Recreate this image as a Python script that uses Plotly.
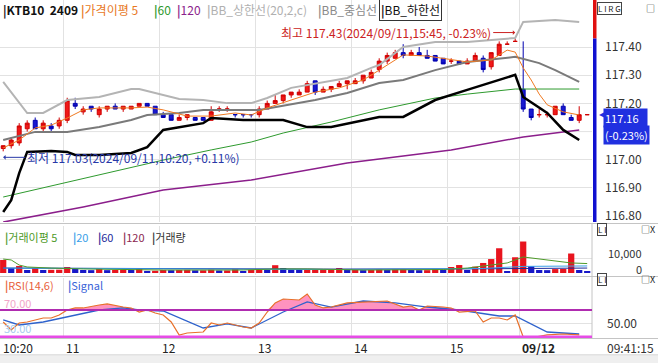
import plotly.graph_objects as go

# ---------------- data ----------------
bar_idx = list(range(74))
opens = [117.04, 117.05, 117.06, 117.11, 117.14, 117.11, 117.12, 117.12, 117.14, 117.20,
         117.17, 117.19, 117.16, 117.18, 117.19, 117.18, 117.18, 117.19, 117.20, 117.19,
         117.16, 117.16, 117.14, 117.15, 117.15, 117.15, 117.14, 117.18, 117.18, 117.16,
         117.16, 117.16, 117.16, 117.18, 117.20, 117.21, 117.23, 117.23, 117.24, 117.28,
         117.24, 117.25, 117.26, 117.27, 117.27, 117.28, 117.29, 117.32, 117.35, 117.36,
         117.38, 117.37, 117.38, 117.37, 117.37, 117.36, 117.35, 117.35, 117.34, 117.35,
         117.36, 117.33, 117.37, 117.41, 117.42, 117.25, 117.18, 117.16, 117.16, 117.16,
         117.19, 117.15, 117.14, 117.16]
highs = [117.05, 117.08, 117.13, 117.14, 117.15, 117.14, 117.13, 117.15, 117.22, 117.22,
         117.19, 117.19, 117.19, 117.19, 117.20, 117.19, 117.19, 117.20, 117.20, 117.19,
         117.17, 117.16, 117.16, 117.16, 117.15, 117.15, 117.19, 117.19, 117.19, 117.16,
         117.16, 117.16, 117.19, 117.21, 117.23, 117.23, 117.24, 117.25, 117.28, 117.28,
         117.26, 117.26, 117.28, 117.28, 117.29, 117.30, 117.32, 117.36, 117.38, 117.39,
         117.41, 117.39, 117.40, 117.39, 117.37, 117.36, 117.36, 117.35, 117.36, 117.38,
         117.37, 117.38, 117.42, 117.42, 117.43, 117.42, 117.18, 117.18, 117.17, 117.19,
         117.20, 117.16, 117.19, 117.16]
lows = [117.03, 117.04, 117.05, 117.10, 117.11, 117.10, 117.10, 117.11, 117.13, 117.18,
        117.16, 117.17, 117.15, 117.17, 117.18, 117.17, 117.18, 117.19, 117.19, 117.16,
        117.15, 117.14, 117.14, 117.14, 117.14, 117.14, 117.14, 117.17, 117.17, 117.15,
        117.15, 117.15, 117.15, 117.18, 117.20, 117.20, 117.22, 117.23, 117.24, 117.23,
        117.24, 117.24, 117.26, 117.25, 117.27, 117.27, 117.29, 117.31, 117.34, 117.36,
        117.36, 117.37, 117.37, 117.36, 117.35, 117.34, 117.34, 117.34, 117.34, 117.35,
        117.31, 117.32, 117.37, 117.41, 117.42, 117.17, 117.14, 117.15, 117.15, 117.16,
        117.16, 117.14, 117.13, 117.16]
closes = [117.05, 117.07, 117.12, 117.13, 117.11, 117.13, 117.11, 117.14, 117.21, 117.19,
          117.18, 117.18, 117.18, 117.19, 117.18, 117.19, 117.19, 117.20, 117.19, 117.16,
          117.15, 117.14, 117.15, 117.16, 117.14, 117.14, 117.17, 117.18, 117.18, 117.16,
          117.16, 117.16, 117.18, 117.20, 117.21, 117.23, 117.24, 117.24, 117.27, 117.24,
          117.25, 117.26, 117.27, 117.28, 117.28, 117.30, 117.31, 117.35, 117.37, 117.38,
          117.37, 117.38, 117.37, 117.36, 117.35, 117.34, 117.35, 117.34, 117.35, 117.37,
          117.32, 117.38, 117.41, 117.41, 117.42, 117.18, 117.15, 117.16, 117.16, 117.19,
          117.16, 117.14, 117.16, 117.16]
volumes = [8700, 3300, 4700, 2000, 3300, 2000, 2100, 2200, 4000, 3200,
           2000, 1900, 3300, 1900, 2000, 2100, 2000, 2700, 1400, 1500,
           2000, 1900, 2000, 2100, 1800, 1800, 2200, 1700, 1700, 2600,
           1300, 2100, 2200, 2000, 5200, 3300, 2200, 2000, 2000, 2100,
           2200, 2600, 3300, 2000, 2000, 1900, 2000, 2400, 2000, 2400,
           2500, 2000, 1900, 1900, 2500, 2000, 4000, 5300, 2000, 4200,
           6700, 9300, 16500, 1200, 10500, 21000, 4500, 2000, 1900, 2600,
           2700, 13000, 2000, 700]
prev_close = 117.43

# overlay lines (bar index, price)
bb_up_x = [0, 3, 5, 8, 12, 16, 17, 20, 22, 25, 28, 31, 33, 36, 40, 43, 46, 47, 50, 54, 58, 64, 65, 69, 72]
bb_up = [117.276, 117.166, 117.166, 117.212, 117.223, 117.251, 117.251, 117.230, 117.216, 117.212,
         117.201, 117.201, 117.219, 117.255, 117.276, 117.290, 117.326, 117.336, 117.400, 117.418,
         117.418, 117.432, 117.489, 117.496, 117.489]
bb_mid_x = [0, 4, 8, 12, 16, 18, 22, 25, 32, 39, 43, 47, 50, 54, 58, 64, 67, 69, 72]
bb_mid = [117.070, 117.099, 117.099, 117.116, 117.141, 117.159, 117.166, 117.177, 117.177, 117.212,
          117.237, 117.272, 117.283, 117.318, 117.347, 117.365, 117.343, 117.318, 117.276]
bb_lo_x = [0, 1, 2, 3, 6, 8, 9, 12, 16, 18, 20, 25, 26, 30, 35, 38, 41, 45, 47, 50, 54, 58, 64, 65, 68, 70, 72]
bb_lo = [116.815, 116.857, 116.953, 117.028, 117.031, 117.028, 117.017, 117.017, 117.024, 117.045,
         117.106, 117.130, 117.148, 117.141, 117.141, 117.116, 117.116, 117.141, 117.152, 117.152,
         117.212, 117.248, 117.301, 117.223, 117.166, 117.106, 117.070]
ma60_x = [0, 9, 20, 26, 31, 35, 41, 47, 54, 58, 64, 72]
ma60 = [116.868, 116.928, 116.999, 117.035, 117.063, 117.095, 117.134, 117.177, 117.219, 117.233, 117.251, 117.251]
ma120_x = [0, 10, 20, 31, 43, 56, 65, 72]
ma120 = [116.779, 116.833, 116.893, 116.928, 116.989, 117.035, 117.081, 117.106]
ma5_x = [0, 2, 4, 6, 8, 10, 12, 16, 18, 20, 23, 26, 29, 31, 33, 36, 39, 42, 45, 47, 50, 53, 56, 58, 61, 63, 64, 65, 66, 67, 68, 70, 72]
ma5 = [117.042, 117.070, 117.113, 117.123, 117.148, 117.177, 117.184, 117.184, 117.187, 117.177,
       117.155, 117.155, 117.166, 117.159, 117.184, 117.212, 117.240, 117.255, 117.283, 117.318,
       117.372, 117.368, 117.354, 117.347, 117.354, 117.389, 117.382, 117.326, 117.283, 117.233,
       117.195, 117.170, 117.159]

vma5_x = [0, 1, 2, 3, 6, 10, 20, 30, 34, 38, 45, 55, 58, 61, 63, 65, 67, 69, 71, 73]
vma5 = [9300, 8700, 5300, 4000, 3300, 2700, 2000, 2000, 2700, 2700, 2000, 2300, 3300, 5300, 6700, 10700, 9300, 8000, 6700, 6300]
vma20_x = [0, 20, 40, 60, 65, 73]
vma20 = [3300, 2600, 2300, 3000, 4400, 4700]
vma60_x = [0, 16, 40, 60, 73]
vma60 = [3300, 3000, 2600, 2800, 3300]

rsi_x = [0, 1, 2, 3, 5, 6, 7, 8, 9, 10, 12, 13, 15, 16, 17, 18, 19, 20, 21, 22, 23, 25, 26, 27, 28, 30, 31,
         32, 33, 34, 35, 37, 38, 39, 40, 41, 43, 45, 47, 48, 50, 51, 52, 53, 55, 56, 57, 59, 60, 61, 62, 63,
         64, 65, 66, 68, 70, 72]
rsi = [52.2, 40.4, 50.7, 52.2, 58.1, 58.1, 62.6, 70.0, 73.0, 73.0, 77.4, 78.9, 74.4, 73.0, 67.0, 70.0, 65.6,
       62.6, 52.2, 33.0, 35.9, 37.4, 50.7, 47.8, 50.7, 44.8, 43.3, 50.7, 67.0, 80.4, 86.3, 84.8, 93.7, 77.4,
       73.0, 74.4, 80.4, 81.9, 83.3, 83.3, 74.4, 75.9, 70.0, 75.9, 74.4, 73.0, 67.0, 68.5, 52.2, 58.1, 58.1,
       55.2, 62.6, 30.0, 28.8, 33.0, 34.4, 33.0]
sig_x = [0, 2, 5, 8, 12, 15, 17, 20, 22, 25, 28, 31, 35, 38, 41, 45, 49, 53, 57, 62, 64, 68, 72]
sig = [55.2, 47.8, 52.2, 59.6, 70.0, 73.0, 70.0, 68.5, 58.1, 43.3, 49.3, 43.3, 67.0, 81.9, 74.4, 83.3,
       80.4, 74.4, 70.0, 61.1, 61.1, 37.4, 34.4]

x_tick_pos = [-0.4, 7.5, 19.5, 31.5, 43.5, 55.5, 64.5]
x_tick_txt = ["10:20", "11", "12", "13", "14", "15", "<b>09/12</b>"]
price_ticks = [116.8, 116.9, 117.0, 117.2, 117.3, 117.4]

# ---------------- layout helpers ----------------
W, H = 658, 363
PW, PH = 592, 338
FONT = "Noto Sans CJK KR, DejaVu Sans, sans-serif"


def px(xp):
    return xp / PW


def py(yp):
    return 1 - yp / PH


P_RANGE = [116.7794, 117.5667]
V_RANGE = [-1334, 31349]
R_RANGE = [28.5, 117.4]
X_RANGE = [-0.4, 73.6]

fig = go.Figure()

# main panel lines
fig.add_trace(go.Scatter(x=ma120_x, y=ma120, mode="lines", line=dict(color="#8B1E8B", width=1.5)))
fig.add_trace(go.Scatter(x=ma60_x, y=ma60, mode="lines", line=dict(color="#2E9A2E", width=1)))
fig.add_trace(go.Scatter(x=bb_up_x, y=bb_up, mode="lines", line=dict(color="#B4B4B4", width=2)))
fig.add_trace(go.Scatter(x=bb_mid_x, y=bb_mid, mode="lines", line=dict(color="#7A7A7A", width=2)))
fig.add_trace(go.Scatter(x=bb_lo_x, y=bb_lo, mode="lines", line=dict(color="#000000", width=2.5)))
fig.add_trace(go.Scatter(x=ma5_x, y=ma5, mode="lines", line=dict(color="#F07A22", width=1)))
fig.add_trace(go.Candlestick(
    x=bar_idx, open=opens, high=highs, low=lows, close=closes,
    increasing=dict(line=dict(color="#D00000", width=1), fillcolor="#F01818"),
    decreasing=dict(line=dict(color="#0000B0", width=1), fillcolor="#1818D0"),
    whiskerwidth=0, xaxis="x", yaxis="y"))

# volume panel
vol_colors = ["#E8141E" if i == 0 or volumes[i] >= volumes[i - 1] else "#1818C8" for i in range(len(volumes))]
fig.add_trace(go.Bar(x=bar_idx, y=volumes, marker=dict(color=vol_colors, line=dict(width=0)),
                     width=0.78, xaxis="x2", yaxis="y2"))
fig.add_trace(go.Scatter(x=vma60_x, y=vma60, mode="lines", line=dict(color="#1E2A9A", width=1), xaxis="x2", yaxis="y2"))
fig.add_trace(go.Scatter(x=vma20_x, y=vma20, mode="lines", line=dict(color="#3AA0E8", width=1), xaxis="x2", yaxis="y2"))
fig.add_trace(go.Scatter(x=vma5_x, y=vma5, mode="lines", line=dict(color="#4E9A2A", width=1), xaxis="x2", yaxis="y2"))

# RSI panel
fig.add_trace(go.Scatter(x=rsi_x, y=[70] * len(rsi_x), mode="lines", line=dict(width=0), xaxis="x3", yaxis="y3"))
fig.add_trace(go.Scatter(x=rsi_x, y=[max(v, 70) for v in rsi], mode="lines", line=dict(width=0),
                         fill="tonexty", fillcolor="rgba(255,120,175,0.8)", xaxis="x3", yaxis="y3"))
fig.add_trace(go.Scatter(x=sig_x, y=sig, mode="lines", line=dict(color="#2E62CC", width=1.3), xaxis="x3", yaxis="y3"))
fig.add_trace(go.Scatter(x=rsi_x, y=rsi, mode="lines", line=dict(color="#E8702A", width=1.2), xaxis="x3", yaxis="y3"))

GRID = "#E2E2E2"
xcommon = dict(range=X_RANGE, showticklabels=False, tickvals=x_tick_pos[1:], showgrid=True, gridcolor=GRID,
               gridwidth=1, zeroline=False, ticks="", showline=False, fixedrange=True)

shapes = []
# separators between panels
for yy in [223.5, 276.5, 338.5, 355]:
    shapes.append(dict(type="line", xref="paper", yref="paper", x0=0, x1=px(W), y0=py(yy), y1=py(yy),
                       line=dict(color="#C4C4C4", width=1)))
shapes.append(dict(type="rect", xref="paper", yref="paper", x0=0, x1=px(W), y0=py(363), y1=py(355.5),
                   fillcolor="#EFEFEF", line=dict(width=0)))
# right border line of lower panels
shapes.append(dict(type="line", xref="paper", yref="paper", x0=1, x1=1, y0=0, y1=py(224),
                   line=dict(color="#C4C4C4", width=1)))
# prev close colored bar at right of main panel
shapes.append(dict(type="rect", xref="paper", yref="y", x0=px(593), x1=px(596.5), y0=prev_close, y1=P_RANGE[1],
                   fillcolor="#E01010", line=dict(width=0)))
shapes.append(dict(type="rect", xref="paper", yref="y", x0=px(593), x1=px(596.5), y0=P_RANGE[0], y1=prev_close,
                   fillcolor="#1010D0", line=dict(width=0)))
# RSI reference lines
shapes.append(dict(type="line", xref="paper", yref="y3", x0=0, x1=1, y0=70, y1=70,
                   line=dict(color="#B02CB0", width=2)))
shapes.append(dict(type="line", xref="paper", yref="y3", x0=0, x1=1, y0=30, y1=30,
                   line=dict(color="#E64CE6", width=3)))
# 117.10 gridline (its label is hidden behind the price box)
shapes.append(dict(type="line", xref="paper", yref="y", x0=0, x1=1, y0=117.1, y1=117.1,
                   line=dict(color=GRID, width=1), layer="below"))

ann = []


def txt(x, y, text, color="#222222", size=12, xanchor="left", **kw):
    d = dict(xref="paper", yref="paper", x=px(x), y=py(y), text=text, showarrow=False,
             xanchor=xanchor, yanchor="middle", font=dict(family=FONT, size=size, color=color))
    d.update(kw)
    ann.append(d)


def leg(x, y, color, label, size=12, **kw):
    txt(x, y, f'<span style="color:{color}"><b>|</b></span>{label}', color=color, size=size, **kw)


# main legend
leg(1, 10, "#111111", "<b>KTB10  2409</b>")
leg(79, 10, "#E8781E", "가격이평 5")
leg(152, 10, "#2E9A2E", "60")
leg(175, 10, "#8B228B", "120")
leg(205, 10, "#B0B0B0", "BB_상한선(20,2,c)")
leg(316, 10, "#8A8A8A", "BB_중심선")
leg(379, 10, "#111111", "BB_하한선", bordercolor="#333333", borderwidth=1, borderpad=1)
# volume legend
leg(3, 237, "#4E9A2A", "거래이평 5", size=11)
leg(71, 237, "#3AA0E8", "20", size=11)
leg(96, 237, "#1E2A9A", "60", size=11)
leg(121, 237, "#8B2850", "120", size=11)
leg(150, 237, "#333333", "거래량", size=11)
# RSI legend
leg(3, 285, "#E8603A", "RSI(14,6)", size=11)
leg(66, 285, "#3A64D8", "Signal", size=11)
txt(2, 303, "70.00", color="#F2A6C8", size=11)
txt(2, 328, "30.00", color="#A4CBF0", size=11)

# right labels for volume & RSI
txt(644, 253, "10,000", color="#333333", size=11, xanchor="right")
txt(644, 269, "0", color="#333333", size=11, xanchor="right")
txt(605, 347, "09:41:15", color="#333333", size=12)

# panel icons
for yy in [8, 229, 279]:
    txt(597, yy, "L I" if yy > 8 else "L I R G", color="#222222", size=8, bordercolor="#444444", borderwidth=1,
        borderpad=0)
    txt(657, yy, "□X" if yy > 8 else "□", color="#222222", size=9, xanchor="right")

# x labels
for pos, t in zip(x_tick_pos, x_tick_txt):
    ann.append(dict(xref="x", yref="paper", x=pos, y=py(347), text=t, showarrow=False, xanchor="left",
                    yanchor="middle", xshift=1, font=dict(family=FONT, size=12, color="#222222")))

# high / low markers
hi_i = max(range(len(highs)), key=lambda i: highs[i])
lo_i = min(range(len(lows)), key=lambda i: lows[i])
ann.append(dict(xref="x", yref="y", x=hi_i, y=highs[hi_i], text=f"최고 {highs[hi_i]:.2f}(2024/09/11,15:45, -0.23%)",
                showarrow=True, ax=-22, ay=0, xanchor="right", yanchor="middle", yshift=6, standoff=0,
                arrowhead=1, arrowsize=0.8, arrowwidth=1, arrowcolor="#CC2222",
                font=dict(family=FONT, size=12, color="#CC2222")))
ann.append(dict(xref="x", yref="y", x=lo_i, y=lows[lo_i], text=f"최저 {lows[lo_i]:.2f}(2024/09/11,10:20, +0.11%)",
                showarrow=True, ax=22, ay=0, xanchor="left", yanchor="middle", yshift=-6, standoff=0,
                arrowhead=1, arrowsize=0.8, arrowwidth=1, arrowcolor="#2838A8",
                font=dict(family=FONT, size=12, color="#2838A8")))

# current price box (two stacked labels)
last = closes[-1]
pct = (last - prev_close) / prev_close * 100
BOX = "#2030E0"
ann.append(dict(xref="paper", yref="y", x=px(603), y=last, text=f"{last:.2f}   ", showarrow=False,
                xanchor="left", yanchor="middle", yshift=-3, align="left", bgcolor=BOX, borderpad=1,
                font=dict(family=FONT, size=11, color="#FFFFFF")))
ann.append(dict(xref="paper", yref="y", x=px(603), y=last, text=f"({pct:.2f}%)", showarrow=False,
                xanchor="left", yanchor="middle", yshift=-20, align="left", bgcolor=BOX, borderpad=1,
                font=dict(family=FONT, size=11, color="#FFFFFF")))
ann.append(dict(xref="paper", yref="y", x=px(597), y=last, text="◀", showarrow=False, xanchor="left",
                yanchor="middle", font=dict(family="DejaVu Sans", size=8, color=BOX)))

fig.update_layout(
    width=W, height=H, margin=dict(l=0, r=66, t=0, b=25), paper_bgcolor="white", plot_bgcolor="white",
    showlegend=False, hovermode=False,
    xaxis=dict(anchor="y", domain=[0, 1], rangeslider=dict(visible=False), **xcommon),
    xaxis2=dict(anchor="y2", domain=[0, 1], matches="x", **xcommon),
    xaxis3=dict(anchor="y3", domain=[0, 1], matches="x", **xcommon),
    yaxis=dict(domain=[py(222), 1], range=P_RANGE, side="right", tickvals=price_ticks,
               ticktext=[f"{v:.2f}" for v in price_ticks], showgrid=True, gridcolor=GRID, zeroline=False,
               ticks="", ticklabelstandoff=12, tickfont=dict(family=FONT, size=12, color="#333333"),
               fixedrange=True),
    yaxis2=dict(domain=[py(275), py(226)], range=V_RANGE, side="right", tickvals=[10000], showticklabels=False,
                showgrid=True, gridcolor=GRID, zeroline=False, ticks="", fixedrange=True),
    yaxis3=dict(domain=[0, py(278)], range=R_RANGE, side="right", tickvals=[50], ticktext=["50.00"],
                showgrid=True, gridcolor=GRID, zeroline=False, ticks="", ticklabelstandoff=14,
                tickfont=dict(family=FONT, size=12, color="#333333"), fixedrange=True),
    shapes=shapes, annotations=ann,
)

fig.write_html("out.html")
